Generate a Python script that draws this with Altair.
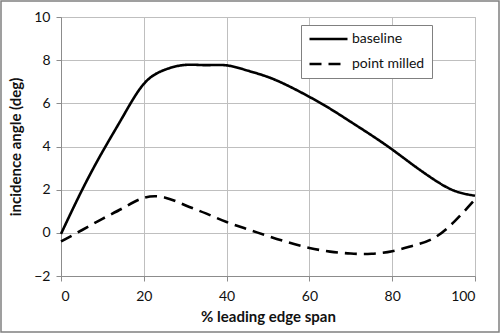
import altair as alt
import pandas as pd

span = [0, 5, 10, 15, 20, 25, 30, 35, 40, 45, 50, 55, 60, 65, 70, 75, 80, 85, 90, 95, 100]
baseline = [-0.05, 1.95, 3.75, 5.4, 6.9, 7.55, 7.78, 7.77, 7.76, 7.52, 7.22, 6.8, 6.3, 5.75, 5.14, 4.52, 3.86, 3.15, 2.48, 1.95, 1.72]
milled = [-0.4, 0.12, 0.65, 1.15, 1.62, 1.64, 1.28, 0.9, 0.5, 0.17, -0.15, -0.45, -0.7, -0.87, -0.96, -0.97, -0.85, -0.6, -0.25, 0.52, 1.55]
series = ["baseline", "point milled"]

rows = []
for i, x in enumerate(span):
    rows.append({"span": x, "angle": baseline[i], "series": series[0]})
    rows.append({"span": x, "angle": milled[i], "series": series[1]})
df = pd.DataFrame(rows)

FONT = "Lato"

lines = alt.Chart(df).mark_line(interpolate="natural", strokeWidth=2.6, color="black").encode(
    x=alt.X("span:Q", title="% leading edge span",
            scale=alt.Scale(domain=[0, 100], nice=False),
            axis=alt.Axis(values=[0, 20, 40, 60, 80, 100])),
    y=alt.Y("angle:Q", title="incidence angle (deg)",
            scale=alt.Scale(domain=[-2, 10], nice=False),
            axis=alt.Axis(values=[-2, 0, 2, 4, 6, 8, 10])),
    strokeDash=alt.StrokeDash("series:N",
                              scale=alt.Scale(domain=series, range=[[1, 0], [12, 7]]),
                              legend=alt.Legend(title=None, orient="none", legendX=240, legendY=8,
                                                symbolType="stroke", symbolSize=1444,
                                                symbolStrokeWidth=2.6, symbolStrokeColor="black",
                                                clipHeight=14,
                                                labelFontSize=14, labelFont=FONT, labelColor="#111",
                                                labelOffset=3, rowPadding=11,
                                                padding=7, strokeColor="#808080",
                                                fillColor="white")),
    detail="series:N",
)

frame = alt.Chart(pd.DataFrame({"k": [0]})).mark_rect(fill=None, stroke="#808080", strokeWidth=1.5).encode(
    x=alt.value(-60), x2=alt.value(438), y=alt.value(-16), y2=alt.value(315)
)

chart = alt.layer(lines, frame).properties(
    width=414, height=259,
    autosize=alt.AutoSizeParams(type="none"),
    padding={"left": 61, "top": 17, "right": 25, "bottom": 57},
    background="white",
).configure_view(stroke="#bfbfbf").configure_axis(
    gridColor="#bfbfbf", gridWidth=1,
    domainColor="#8c8c8c", tickColor="#8c8c8c", tickSize=5,
    labelFont=FONT, labelFontSize=14, labelColor="#111",
    titleFont=FONT, titleFontSize=15, titleFontWeight="bold", titleColor="#111",
).configure_axisY(labelPadding=6, titlePadding=10).configure_axisX(labelPadding=8, titlePadding=6)

chart.save("out.html", embed_options={"renderer": "svg", "actions": False})
